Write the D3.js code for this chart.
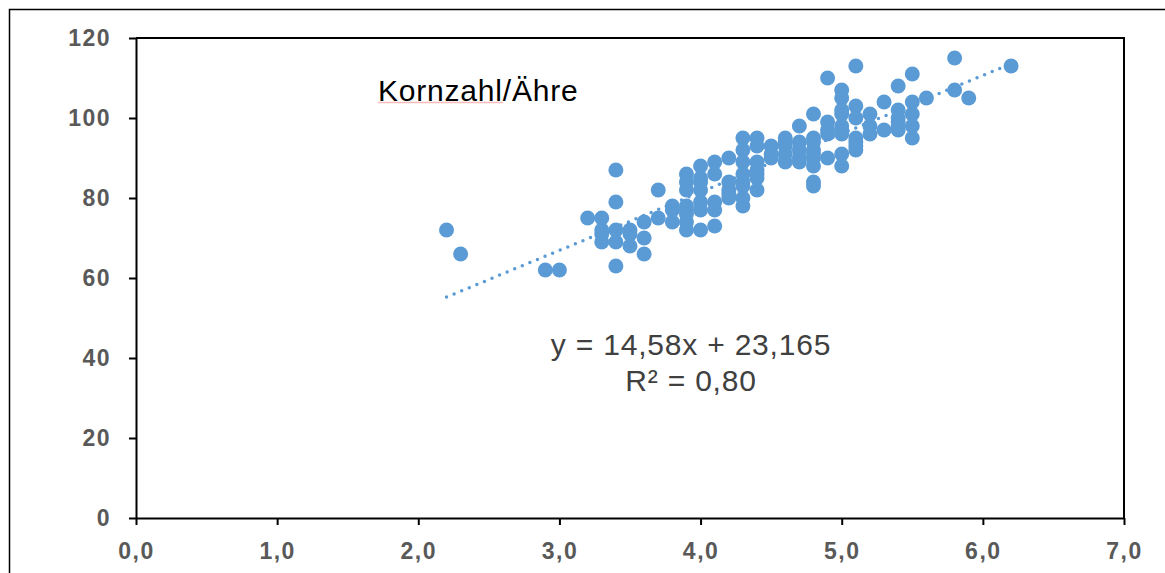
<!DOCTYPE html>
<html>
<head>
<meta charset="utf-8">
<script src="https://cdn.jsdelivr.net/npm/d3@7"></script>
<style>
    body { margin: 0; background: #fff; }
    svg { display: block; }
</style>
</head>
<body>
<div id="chart"></div>
<script>
// Ährenlänge (x) und die Kornzahlen, die bei dieser Länge gemessen wurden
const laengen = [2.2, 2.3, 2.9, 3.0, 3.2, 3.3, 3.4, 3.5, 3.6, 3.7, 3.8, 3.9, 4.0, 4.1, 4.2, 4.3,
    4.4, 4.5, 4.6, 4.7, 4.8, 4.9, 5.0, 5.1, 5.2, 5.3, 5.4, 5.5, 5.6, 5.8, 5.9, 6.2];
const kornzahlen = [
    [72], [66], [62], [62], [75],
    [75, 72, 71, 69],
    [87, 79, 72, 69, 63],
    [72, 71, 68],
    [74, 70, 66],
    [82, 75],
    [77, 78, 74],
    [86, 84, 82, 78, 77, 76, 74, 72],
    [88, 85, 84, 82, 79, 77, 72],
    [89, 86, 79, 77, 73],
    [90, 84, 82, 81, 80],
    [95, 92, 89, 86, 84, 83, 80, 78],
    [95, 93, 89, 87, 86, 85, 82],
    [93, 91, 90],
    [95, 94, 93, 91, 89],
    [98, 94, 92, 90, 89],
    [101, 95, 94, 92, 91, 90, 88, 84, 83],
    [110, 99, 97, 96, 90],
    [107, 105, 102, 101, 98, 97, 96, 91, 88],
    [113, 103, 100, 95, 94, 93, 92],
    [101, 98, 96],
    [104, 97],
    [108, 102, 100, 99, 98, 97],
    [111, 104, 101, 98, 95],
    [105],
    [115, 107],
    [105],
    [113]
];

// Trendlinie laut Diagramm
const steigung = 14.58;
const achsenabschnitt = 23.165;
const trendBereich = [2.2, 6.2];

const xTicks = [0, 1, 2, 3, 4, 5, 6, 7];
const yTicks = [0, 20, 40, 60, 80, 100, 120];

const titel = "Kornzahl/Ähre";
const gleichung = "y = 14,58x + 23,165";
const bestimmtheit = "R² = 0,80";

const punkte = [];
laengen.forEach((l, i) => {
    kornzahlen[i].forEach(k => punkte.push({ x: l, y: k }));
});

const W = 1165, H = 573;
const blau = "#5B9BD5";

const svg = d3.select("#chart")
    .append("svg")
    .attr("width", W)
    .attr("height", H);

// outer frame (goes past the right and bottom edge)
svg.append("path")
    .attr("d", `M9.5,${H + 5} L9.5,9.5 L${W + 5},9.5`)
    .attr("fill", "none")
    .attr("stroke", "#000")
    .attr("stroke-width", 1.5);

const x = d3.scaleLinear().domain([0, 7]).range([136, 1124]);
const y = d3.scaleLinear().domain([0, 120]).range([518, 38]);

// plot box top and right
svg.append("path")
    .attr("d", `M${x(0)},${y(120)} L${x(7)},${y(120)} L${x(7)},${y(0)}`)
    .attr("fill", "none")
    .attr("stroke", "#000")
    .attr("stroke-width", 2);

const xAxis = svg.append("g")
    .attr("transform", `translate(0,${y(0)})`)
    .call(d3.axisBottom(x)
        .tickValues(xTicks)
        .tickSize(7)
        .tickSizeOuter(0)
        .tickPadding(18)
        .tickFormat(d => d.toFixed(1).replace(".", ",")));

const yAxis = svg.append("g")
    .attr("transform", `translate(${x(0)},0)`)
    .call(d3.axisLeft(y)
        .tickValues(yTicks)
        .tickSize(7)
        .tickSizeOuter(0)
        .tickPadding(18)
        .tickFormat(d3.format("d")));

[xAxis, yAxis].forEach(ax => {
    ax.select(".domain").attr("stroke", "#000").attr("stroke-width", 2);
    ax.selectAll(".tick line").attr("stroke", "#000").attr("stroke-width", 2);
    ax.selectAll(".tick text")
        .attr("fill", "#595959")
        .style("font-family", "'Liberation Sans', Arial, sans-serif")
        .style("font-weight", "bold")
        .style("font-size", "23px")
        .style("letter-spacing", "1.5px");
});

// scatter points
svg.append("g")
    .selectAll("circle")
    .data(punkte)
    .enter()
    .append("circle")
    .attr("cx", d => x(d.x))
    .attr("cy", d => y(d.y))
    .attr("r", 7.5)
    .attr("fill", blau);

// dotted linear trendline
svg.append("line")
    .attr("x1", x(trendBereich[0]))
    .attr("y1", y(steigung * trendBereich[0] + achsenabschnitt))
    .attr("x2", x(trendBereich[1]))
    .attr("y2", y(steigung * trendBereich[1] + achsenabschnitt))
    .attr("stroke", blau)
    .attr("stroke-width", 3.5)
    .attr("stroke-linecap", "round")
    .attr("stroke-dasharray", "0 8.2");

const textFont = "'Liberation Sans', Arial, sans-serif";

svg.append("text")
    .attr("x", 378)
    .attr("y", 101)
    .text(titel)
    .attr("fill", "#000")
    .style("font-family", textFont)
    .style("font-size", "30px")
    .style("letter-spacing", "0.8px");

// spell-check underline under the title
svg.append("line")
    .attr("x1", 378).attr("x2", 503)
    .attr("y1", 102.5).attr("y2", 102.5)
    .attr("stroke", "#f6bcbc")
    .attr("stroke-width", 1.5);

svg.append("text")
    .attr("x", 691)
    .attr("y", 355)
    .attr("text-anchor", "middle")
    .text(gleichung)
    .attr("fill", "#404040")
    .style("font-family", textFont)
    .style("font-size", "30px")
    .style("letter-spacing", "0.8px");

svg.append("text")
    .attr("x", 691)
    .attr("y", 391)
    .attr("text-anchor", "middle")
    .text(bestimmtheit)
    .attr("fill", "#404040")
    .style("font-family", textFont)
    .style("font-size", "30px")
    .style("letter-spacing", "0.8px");
</script>
</body>
</html>
